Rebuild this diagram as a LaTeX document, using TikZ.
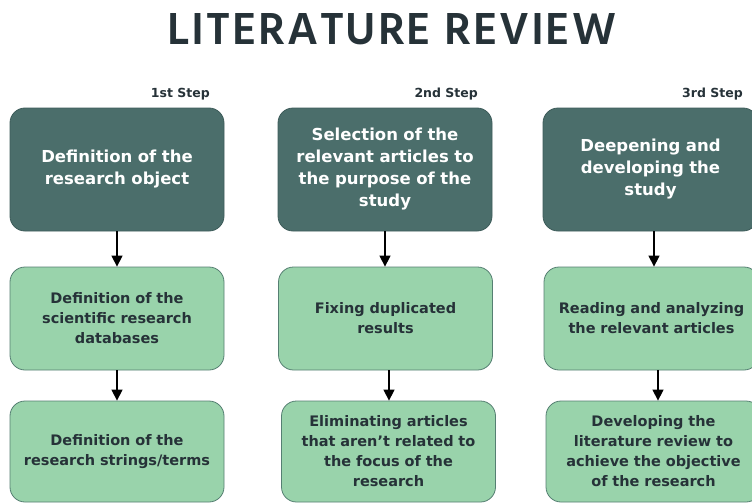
\documentclass[tikz,border=0pt]{standalone}
\usepackage{fontspec}
\setmainfont{DejaVu Sans}
\newfontfamily\titlefont{Hind Madurai SemiBold}[LetterSpace=3.9]
\usetikzlibrary{arrows.meta}
\definecolor{darkbox}{HTML}{4B6E6B}
\definecolor{darkline}{HTML}{3E5C5A}
\definecolor{greenbox}{HTML}{99D3AB}
\definecolor{greenline}{HTML}{557F72}
\definecolor{inktext}{HTML}{263238}
\tikzset{
  x=1pt, y=-1pt,
  topbox/.style={draw=darkline, line width=0.8pt, fill=darkbox, rounded corners=15pt,
    minimum width=214pt, minimum height=123pt, text width=200pt, align=center,
    text=white, font=\bfseries\fontsize{16.5}{22}\selectfont, inner sep=0pt},
  subbox/.style={draw=greenline, line width=0.8pt, fill=greenbox, rounded corners=15pt,
    minimum width=214pt, minimum height=103pt, text width=200pt, align=center,
    text=inktext, font=\bfseries\fontsize{14.5}{20}\selectfont, inner sep=0pt},
  steplabel/.style={anchor=east, text=inktext, font=\bfseries\fontsize{12.5}{15}\selectfont, inner sep=0pt},
  flowarrow/.style={draw=black, line width=1.4pt, -{Triangle[length=11pt,width=11pt]}},
}
\begin{document}
\begin{tikzpicture}
\useasboundingbox (0,0) rectangle (752,503);
\clip (0,0) rectangle (752,503);
\fill[white] (0,0) rectangle (752,503);

\node[text=inktext, font=\titlefont\fontsize{46}{46}\selectfont, inner sep=0pt] (title) at (392,29) {LITERATURE REVIEW};

\node[steplabel] (s1) at (210,94) {1st Step};
\node[steplabel] (s2) at (478,94) {2nd Step};
\node[steplabel] (s3) at (743,94) {3rd Step};

% column 1
\node[topbox] (a1) at (117,169.5) {Definition of the\\research object};
\node[subbox] (a2) at (117,318.5) {Definition of the\\scientific research\\databases};
\node[subbox, minimum height=101pt] (a3) at (117,451.5) {Definition of the\\research strings/terms};

% column 2
\node[topbox] (b1) at (385,169.5) {Selection of the\\relevant articles to\\the purpose of the\\study};
\node[subbox] (b2) at (385.5,318.5) {Fixing duplicated\\results};
\node[subbox, minimum height=101pt] (b3) at (388.5,451.5) {Eliminating articles\\that aren't related to\\the focus of the\\research};

% column 3
\node[topbox, minimum width=215pt] (c1) at (650.5,169.5) {Deepening and\\developing the\\study};
\node[subbox, minimum width=215pt] (c2) at (651.5,318.5) {Reading and analyzing\\the relevant articles};
\node[subbox, minimum width=215pt, minimum height=101pt] (c3) at (653.5,451.5) {Developing the\\literature review to\\achieve the objective\\of the research};

\draw[flowarrow] (a1.south) -- (a2.north);
\draw[flowarrow] (a2.south) -- (a3.north);
\draw[flowarrow] (b1.south) -- ([xshift=-0.5pt]b2.north);
\draw[flowarrow] ([xshift=3.5pt]b2.south) -- ([xshift=0.5pt]b3.north);
\draw[flowarrow] ([xshift=3.5pt]c1.south) -- ([xshift=2.5pt]c2.north);
\draw[flowarrow] ([xshift=6.5pt]c2.south) -- ([xshift=4.5pt]c3.north);
\end{tikzpicture}
\end{document}
